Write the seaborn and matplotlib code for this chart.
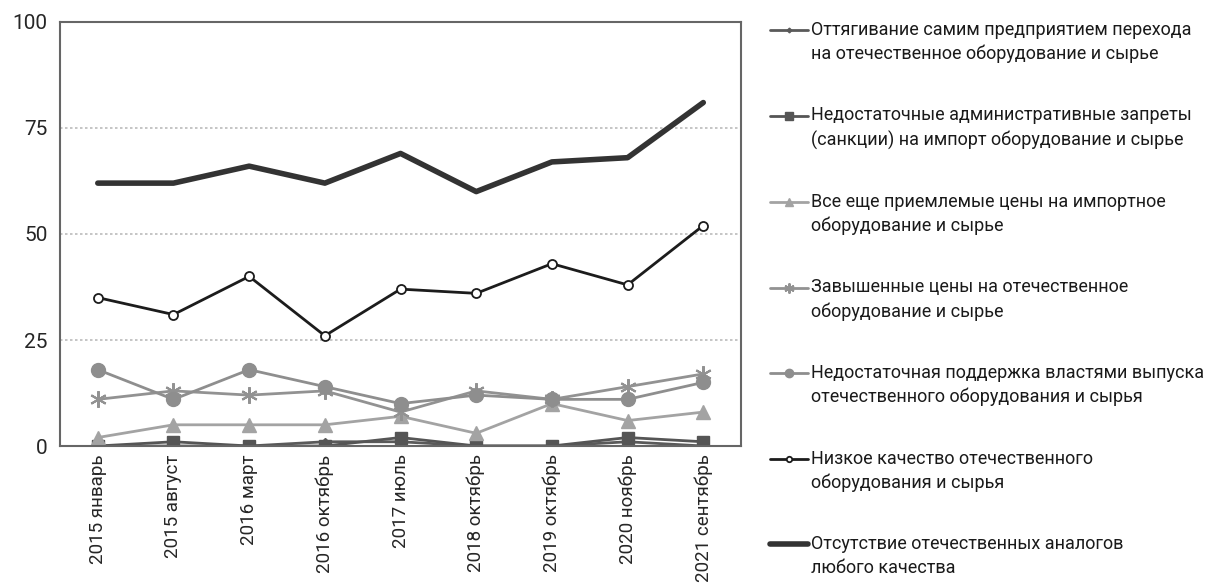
import numpy as np
import pandas as pd
import matplotlib
matplotlib.use('Agg')
import matplotlib.pyplot as plt
import seaborn as sns
from matplotlib.ticker import FixedLocator

periods = ["2015 январь", "2015 август", "2016 март", "2016 октябрь", "2017 июль",
           "2018 октябрь", "2019 октябрь", "2020 ноябрь", "2021 сентябрь"]

delay_switch = [0, 0, 0, 1, 1, 0, 0, 1, 0]
weak_bans = [0, 1, 0, 0, 2, 0, 0, 2, 1]
import_prices_ok = [2, 5, 5, 5, 7, 3, 10, 6, 8]
domestic_overpriced = [11, 13, 12, 13, 8, 13, 11, 14, 17]
weak_support = [18, 11, 18, 14, 10, 12, 11, 11, 15]
low_quality = [35, 31, 40, 26, 37, 36, 43, 38, 52]
no_analogs = [62, 62, 66, 62, 69, 60, 67, 68, 81]

labels = [
    "Оттягивание самим предприятием перехода\nна отечественное оборудование и сырье",
    "Недостаточные административные запреты\n(санкции) на импорт оборудование и сырье",
    "Все еще приемлемые цены на импортное\nоборудование и сырье",
    "Завышенные цены на отечественное\nоборудование и сырье",
    "Недостаточная поддержка властями выпуска\nотечественного оборудования и сырья",
    "Низкое качество отечественного\nоборудования и сырья",
    "Отсутствие отечественных аналогов\nлюбого качества",
]
series = [delay_switch, weak_bans, import_prices_ok, domestic_overpriced,
          weak_support, low_quality, no_analogs]

styles = [
    dict(color="#5a5a5a", lw=2.0, marker="D", ms=4, mfc="#5a5a5a", mec="#5a5a5a"),
    dict(color="#555555", lw=2.0, marker="s", ms=9, mfc="#555555", mec="#555555"),
    dict(color="#a3a3a3", lw=2.0, marker="^", ms=9.5, mfc="#a3a3a3", mec="#a3a3a3"),
    dict(color="#929292", lw=2.0, marker=(6, 2, 0), ms=12, mfc="#929292", mec="#929292", mew=1.5),
    dict(color="#8e8e8e", lw=2.0, marker="o", ms=10, mfc="#8e8e8e", mec="#8e8e8e"),
    dict(color="#1c1c1c", lw=2.0, marker="o", ms=6.5, mfc="white", mec="#1c1c1c", mew=1.3),
    dict(color="#333333", lw=4.0, marker=None, ms=0, mfc="none", mec="none"),
]

sns.set_style("white")
plt.rcParams['font.family'] = ['Roboto', 'DejaVu Sans']

fig = plt.figure(figsize=(12.11, 5.85), dpi=100)
ax = fig.add_axes([0.0495, 0.2376, 0.5625, 0.7248])

x = np.arange(len(periods))
for vals, lab, st in zip(series, labels, styles):
    df = pd.DataFrame({"x": x, "y": vals})
    sns.lineplot(data=df, x="x", y="y", ax=ax, color=st["color"], linewidth=st["lw"],
                 marker=st["marker"], markersize=st["ms"], markerfacecolor=st["mfc"],
                 markeredgecolor=st["mec"], markeredgewidth=st.get("mew", 1.0),
                 label=lab)

ax.set_xlim(-0.5, len(periods) - 0.5)
ax.set_ylim(0, 100)
ax.set_yticks([0, 25, 50, 75, 100])
ax.set_yticklabels(["0", "25", "50", "75", "100"], fontsize=15)
ax.set_xticks(x)
ax.set_xticklabels(periods, rotation=90, fontsize=13.5)
ax.xaxis.set_minor_locator(FixedLocator(np.arange(-0.5, len(periods), 1.0)))
ax.tick_params(axis="x", which="major", length=0, pad=6)
ax.tick_params(axis="x", which="minor", direction="out", length=6, width=1.2, color="#444444")
ax.tick_params(axis="y", which="major", direction="inout", length=10, width=1.5, color="#444444", pad=4)
ax.set_xlabel("")
ax.set_ylabel("")

for yv in [25, 50, 75]:
    ax.axhline(yv, color="#bbbbbb", lw=1.2, ls=(0, (1.5, 1.5)), zorder=0)
ax.axhline(0, color="#444444", lw=1.8, zorder=1)

for side in ["left", "right", "top", "bottom"]:
    ax.spines[side].set_color("#666666")
    ax.spines[side].set_linewidth(1.5)

handles, labs = ax.get_legend_handles_labels()
leg = ax.legend(handles, labs, loc="upper left", bbox_to_anchor=(1.032, 1.02),
                frameon=False, fontsize=13, handlelength=2.1, handletextpad=0.15,
                labelspacing=2.4, borderaxespad=0.0)
for t in leg.get_texts():
    t.set_color("#1a1a1a")
    t.set_linespacing(1.4)
# key sits next to the first text line and uses smaller markers, as in the source
for h in leg.legend_handles:
    h.set_ydata(np.asarray(h.get_ydata()) + 9.0)
    h.set_markersize(h.get_markersize() * 0.6)

fig.savefig("out.png", dpi=100)
